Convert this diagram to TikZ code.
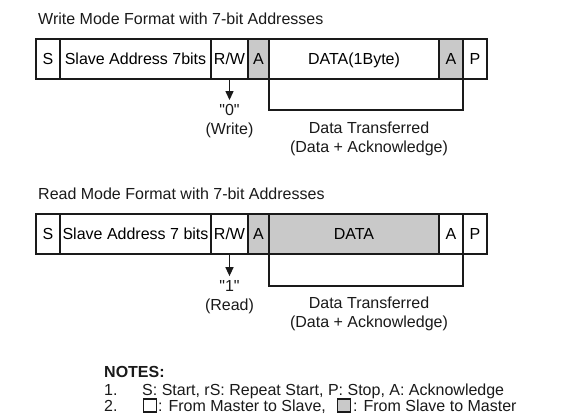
\documentclass[tikz,border=0pt]{standalone}
\usepackage{fontspec}
\setmainfont{Liberation Sans}
\usepackage{xcolor}
\usetikzlibrary{arrows.meta,positioning,calc}
\definecolor{paper}{HTML}{FFFFFF}
\definecolor{ink}{HTML}{1A1A1A}
\definecolor{slave}{HTML}{C9C9C9}
\newcommand{\frm}{\fontsize{16}{19}\selectfont}
\newcommand{\bitval}[1]{\textquotedbl#1\textquotedbl}
\tikzset{
  field/.style={draw=ink, line width=2pt, minimum height=40pt, inner sep=0pt,
                outer sep=0pt, text height=11.5pt, text depth=0pt, anchor=west, font=\frm},
  heading/.style={anchor=base west, inner sep=0pt, font=\frm, text=ink},
  remark/.style={align=center, inner sep=0pt, font=\frm, text=ink},
  bitarrow/.style={-{Triangle[width=8pt,length=9pt]}, line width=1.3pt, draw=ink, shorten >=4pt},
  bracket/.style={draw=ink, line width=2pt},
  keybox/.style={draw=ink, line width=1.4pt, minimum size=13pt, inner sep=0pt, anchor=west}
}

\begin{document}
\begin{tikzpicture}[x=1pt,y=-1pt]
    \useasboundingbox[fill=paper] (0,0) rectangle (569,415);

    % write mode
    \node[heading] (wTitle) at (38,24) {Write Mode Format with 7-bit Addresses};
    \foreach \n/\x/\w/\t/\f in {S/36/24/S/white,Addr/60/151/Slave Address 7bits/white,RW/211/37/{R/W}/white,
        A/248/21/A/slave,Data/269/170/DATA(1Byte)/white,Ack/439/24/A/slave,P/463/24/P/white} {
      \node[field,fill=\f,minimum width=\w pt] (w\n) at (\x,59) {\t};
    }
    \node[remark] (wBit) at (229.5,121) {\bitval{0}\\(Write)};
    \draw[bitarrow] (wRW.south) -- (wBit.north);
    \draw[bracket] (wData.south west) -- ++(0,31) -| (wAck.south east);
    \node[remark] (wNote) at (369,139) {Data Transferred\\(Data + Acknowledge)};

    % read mode
    \node[heading] (rTitle) at (38,199.5) {Read Mode Format with 7-bit Addresses};
    \foreach \n/\x/\w/\t/\f in {S/36/24/S/white,Addr/60/151/Slave Address 7 bits/white,RW/211/37/{R/W}/white,
        A/248/21/A/slave,Data/269/170/DATA/slave,Ack/439/24/A/white,P/463/24/P/white} {
      \node[field,fill=\f,minimum width=\w pt] (r\n) at (\x,234) {\t};
    }
    \node[remark] (rBit) at (229.5,297) {\bitval{1}\\(Read)};
    \draw[bitarrow] (rRW.south) -- (rBit.north);
    \draw[bracket] (rData.south west) -- ++(0,32) -| (rAck.south east);
    \node[remark] (rNote) at (369,314) {Data Transferred\\(Data + Acknowledge)};

    % notes
    \node[heading,font=\frm\bfseries] (notes) at (104,377) {NOTES:};
    \node[heading] (n1) at (104,395) {1.};
    \node[heading] (n1Text) at (142,395) {S: Start, rS: Repeat Start, P: Stop, A: Acknowledge};
    \node[heading] (n2) at (104,411) {2.};
    \node[keybox,fill=white] (kMaster) at (143,405.5) {};
    \node[heading] (kMasterText) at (158,411) {: From Master to Slave,};
    \node[keybox,fill=slave] (kSlave) at (337,405.5) {};
    \node[heading] (kSlaveText) at (353,411) {: From Slave to Master};
\end{tikzpicture}
\end{document}
